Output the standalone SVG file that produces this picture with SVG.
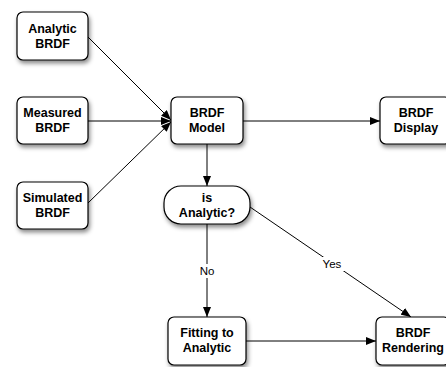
<svg xmlns="http://www.w3.org/2000/svg" width="446" height="367" viewBox="0 0 446 367">
<style>
.box{fill:#fff;stroke:#000;stroke-width:1.2;filter:url(#sh)}
.t{font-family:"Liberation Sans",Arial,sans-serif;font-weight:bold;font-size:12.5px;text-anchor:middle;fill:#000}
.l{font-family:"Liberation Sans",Arial,sans-serif;font-size:11.5px;text-anchor:middle;fill:#000}
.c{stroke:#000;stroke-width:1;fill:none;marker-end:url(#ah)}
</style>
<defs>
<filter id="sh" x="-20%" y="-20%" width="150%" height="160%">
<feDropShadow dx="1.5" dy="3" stdDeviation="2" flood-color="#000" flood-opacity="0.45"/>
</filter>
<marker id="ah" viewBox="0 0 10 8" refX="10" refY="4" markerWidth="10" markerHeight="8" markerUnits="userSpaceOnUse" orient="auto">
<path d="M0,0 L10,4 L0,8 z" fill="#000"/>
</marker>
</defs>
<g id="connectors">
<line class="c" x1="88" y1="37" x2="171" y2="120"/>
<line class="c" x1="88" y1="121" x2="171" y2="121"/>
<line class="c" x1="88" y1="203" x2="171" y2="122"/>
<line class="c" x1="243" y1="121" x2="380" y2="121"/>
<line class="c" x1="207" y1="144" x2="207" y2="186"/>
<line class="c" x1="207" y1="224" x2="207" y2="317"/>
<line class="c" x1="250" y1="207" x2="411" y2="317"/>
<line class="c" x1="246" y1="341" x2="376" y2="341"/>
<rect x="196" y="264" width="22" height="14" fill="#fff"/>
<text class="l" x="207" y="275">No</text>
<rect x="320" y="257" width="25" height="14" fill="#fff"/>
<text class="l" x="332" y="268">Yes</text>
</g>
<g id="analytic">
<rect class="box" x="17" y="12" width="71" height="48" rx="6"/>
<text class="t" x="52.5" y="33">Analytic</text>
<text class="t" x="52.5" y="48">BRDF</text>
</g>
<g id="measured">
<rect class="box" x="17" y="97" width="71" height="47" rx="6"/>
<text class="t" x="52.5" y="117">Measured</text>
<text class="t" x="52.5" y="132">BRDF</text>
</g>
<g id="simulated">
<rect class="box" x="17" y="182" width="71" height="47" rx="6"/>
<text class="t" x="52.5" y="202">Simulated</text>
<text class="t" x="52.5" y="217">BRDF</text>
</g>
<g id="model">
<rect class="box" x="171" y="97" width="72" height="47" rx="6"/>
<text class="t" x="207" y="117">BRDF</text>
<text class="t" x="207" y="132">Model</text>
</g>
<g id="display">
<rect class="box" x="380" y="97" width="71" height="47" rx="6"/>
<text class="t" x="416" y="117">BRDF</text>
<text class="t" x="416" y="132">Display</text>
</g>
<g id="isanalytic">
<rect class="box" x="164" y="186" width="86" height="38" rx="17"/>
<text class="t" x="207" y="202">is</text>
<text class="t" x="207" y="217">Analytic?</text>
</g>
<g id="fitting">
<rect class="box" x="168" y="317" width="78" height="48" rx="6"/>
<text class="t" x="207" y="337">Fitting to</text>
<text class="t" x="207" y="352">Analytic</text>
</g>
<g id="rendering">
<rect class="box" x="376" y="317" width="74" height="48" rx="6"/>
<text class="t" x="413" y="337">BRDF</text>
<text class="t" x="413" y="352">Rendering</text>
</g>
</svg>
